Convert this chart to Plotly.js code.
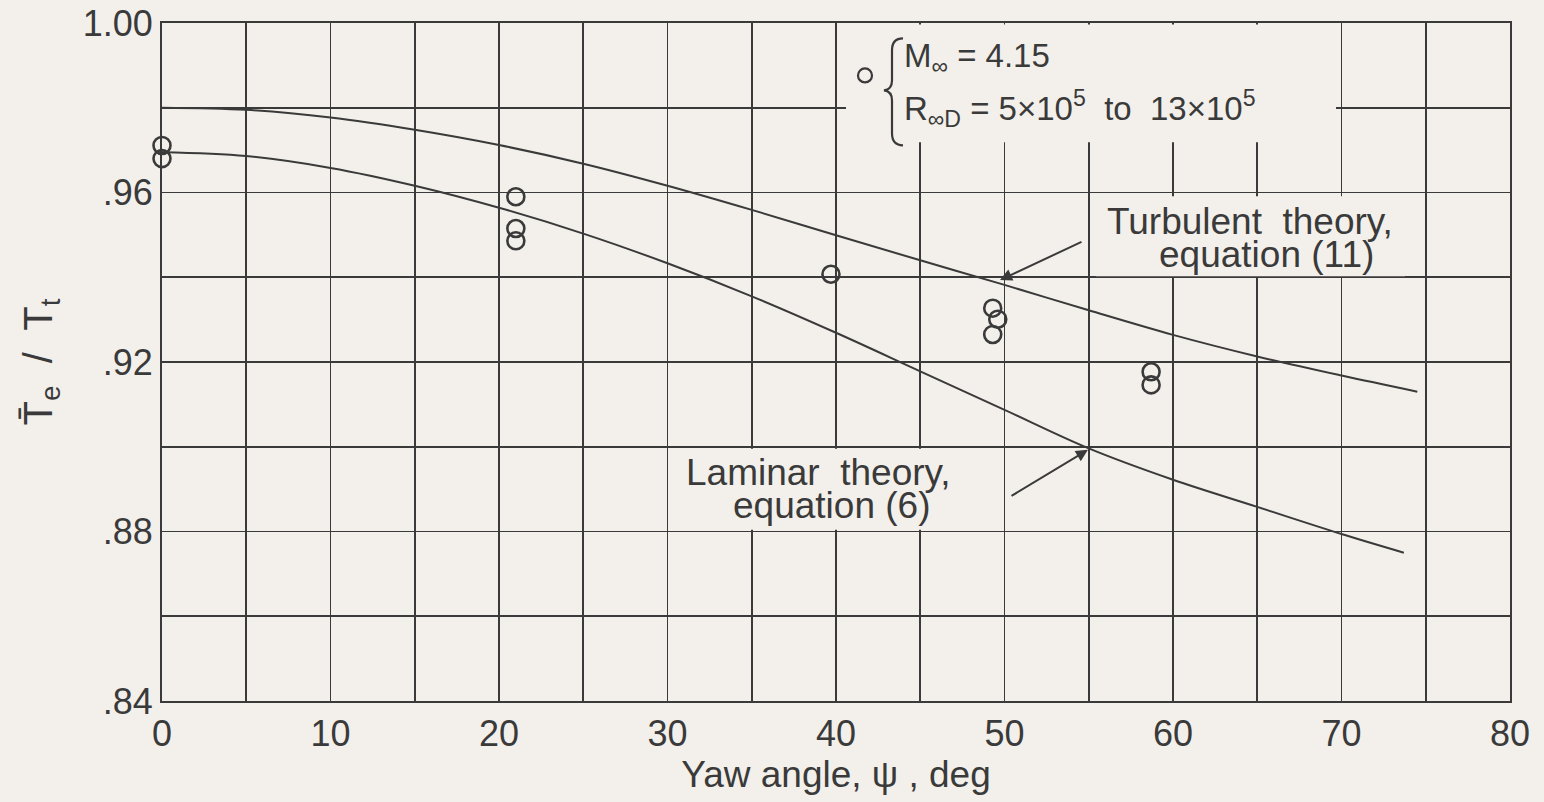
<!DOCTYPE html>
<html>
<head>
<meta charset="utf-8">
<script src="https://cdn.plot.ly/plotly-3.0.1.min.js"></script>
<style>
html,body{margin:0;padding:0;background:#f3f0eb;}
#chart{width:1544px;height:802px;}
</style>
</head>
<body>
<div id="chart"></div>
<script>
// ---- Data ----
const turbX = [0, 5, 10, 15, 20, 25, 30, 35, 40, 45, 50, 55, 60, 65, 70, 74.5];
const turbY = [0.9800, 0.9795, 0.9777, 0.9748, 0.9712, 0.9668, 0.9616, 0.9559, 0.9499, 0.9440, 0.9382, 0.9322, 0.9264, 0.9213, 0.9168, 0.9130];

const lamX = [0, 5, 10, 15, 20, 25, 30, 35, 40, 45, 50, 55, 60, 65, 70, 73.7];
const lamY = [0.9695, 0.9686, 0.9658, 0.9616, 0.9564, 0.9503, 0.9433, 0.9355, 0.9269, 0.9178, 0.9087, 0.8996, 0.8922, 0.8858, 0.8794, 0.8750];

const expX = [0, 0, 21, 21, 21, 39.7, 49.3, 49.6, 49.3, 58.7, 58.7];
const expY = [0.9711, 0.9680, 0.9590, 0.9515, 0.9486, 0.9407, 0.9327, 0.9301, 0.9265, 0.9177, 0.9146];

const xTickVals = [0, 10, 20, 30, 40, 50, 60, 70, 80];
const xTickText = ['0', '10', '20', '30', '40', '50', '60', '70', '80'];
const yTickVals = [0.84, 0.88, 0.92, 0.96, 1.00];
const yTickText = ['.84', '.88', '.92', '.96', '1.00'];

// ---- Style ----
const INK = '#3a3a3a';
const BG = '#f3f0eb';
const FONT = 'Liberation Sans, Arial, sans-serif';

// Plot-area pixel geometry (for decorative shapes placed by pixel)
const PL = 162, PR = 1510, PT = 22.5, PB = 701.5;
const X0 = 0, X1 = 80, Y0 = 0.84, Y1 = 1.00;
function px2x(px){ return X0 + (px - PL) / (PR - PL) * (X1 - X0); }
function py2y(py){ return Y1 - (py - PT) / (PB - PT) * (Y1 - Y0); }

// brace path for the legend key
function bracePath(){
  const pts = [
    ['M', 903, 38],
    ['Q', 892, 38, 892, 50],
    ['L', 892, 80],
    ['Q', 892, 89, 884, 90],
    ['Q', 892, 91, 892, 100],
    ['L', 892, 133],
    ['Q', 892, 145, 903, 145]
  ];
  return pts.map(p => {
    let s = p[0];
    for (let i = 1; i < p.length; i += 2) {
      s += ' ' + px2x(p[i]).toFixed(4) + ',' + py2y(p[i+1]).toFixed(5);
    }
    return s;
  }).join(' ');
}

const traces = [
  {
    x: turbX, y: turbY, type: 'scatter', mode: 'lines',
    line: {color: INK, width: 2, shape: 'spline', smoothing: 1},
    name: 'Turbulent theory', hoverinfo: 'x+y'
  },
  {
    x: lamX, y: lamY, type: 'scatter', mode: 'lines',
    line: {color: INK, width: 2, shape: 'spline', smoothing: 1},
    name: 'Laminar theory', hoverinfo: 'x+y'
  },
  {
    x: expX, y: expY, type: 'scatter', mode: 'markers',
    marker: {symbol: 'circle-open', size: 17, color: INK, line: {width: 2.6, color: INK}},
    name: 'Experiment', cliponaxis: false
  }
];

const shapes = [
  // background patches that interrupt the grid behind the labels
  {type: 'rect', layer: 'between', xref: 'x', yref: 'y',
   x0: px2x(846), x1: px2x(1336), y0: py2y(142), y1: py2y(24),
   fillcolor: BG, line: {width: 0}},
  {type: 'rect', layer: 'between', xref: 'x', yref: 'y',
   x0: px2x(1096), x1: px2x(1405), y0: py2y(276), y1: py2y(196),
   fillcolor: BG, line: {width: 0}},
  {type: 'rect', layer: 'between', xref: 'x', yref: 'y',
   x0: px2x(672), x1: px2x(1002), y0: py2y(530), y1: py2y(449),
   fillcolor: BG, line: {width: 0}},
  // legend key circle
  {type: 'circle', layer: 'above', xref: 'x', yref: 'y',
   x0: px2x(858), x1: px2x(872), y0: py2y(82), y1: py2y(68),
   line: {color: INK, width: 2.2}},
  // legend brace
  {type: 'path', layer: 'above', xref: 'x', yref: 'y',
   path: bracePath(), line: {color: INK, width: 2.2}}
];

const annFont = {family: FONT, size: 37, color: INK};
const annotations = [
  {x: px2x(902), y: py2y(58), xref: 'x', yref: 'y', xanchor: 'left', yanchor: 'middle',
   text: 'M<sub>∞</sub> = 4.15', showarrow: false, font: {family: FONT, size: 33, color: INK}},
  {x: px2x(902), y: py2y(108), xref: 'x', yref: 'y', xanchor: 'left', yanchor: 'middle',
   text: 'R<sub>∞D</sub> = 5×10<sup>5</sup>  to  13×10<sup>5</sup>', showarrow: false,
   font: {family: FONT, size: 33, color: INK}},

  {x: px2x(1250), y: py2y(221), xref: 'x', yref: 'y', xanchor: 'center', yanchor: 'middle',
   text: 'Turbulent  theory,', showarrow: false, font: annFont},
  {x: px2x(1266), y: py2y(254), xref: 'x', yref: 'y', xanchor: 'center', yanchor: 'middle',
   text: 'equation (11)', showarrow: false, font: annFont},

  {x: px2x(818), y: py2y(473), xref: 'x', yref: 'y', xanchor: 'center', yanchor: 'middle',
   text: 'Laminar  theory,', showarrow: false, font: annFont},
  {x: px2x(831), y: py2y(506), xref: 'x', yref: 'y', xanchor: 'center', yanchor: 'middle',
   text: 'equation (6)', showarrow: false, font: annFont},

  // pointer arrows
  {x: px2x(1000), y: py2y(280), ax: px2x(1083), ay: py2y(241),
   xref: 'x', yref: 'y', axref: 'x', ayref: 'y', text: '', showarrow: true,
   arrowhead: 2, arrowsize: 1.2, arrowwidth: 2, arrowcolor: INK},
  {x: px2x(1088), y: py2y(450), ax: px2x(1010), ay: py2y(497),
   xref: 'x', yref: 'y', axref: 'x', ayref: 'y', text: '', showarrow: true,
   arrowhead: 2, arrowsize: 1.2, arrowwidth: 2, arrowcolor: INK}
];

const layout = {
  width: 1544, height: 802,
  paper_bgcolor: BG, plot_bgcolor: BG,
  margin: {l: PL, r: 1544 - PR, t: PT, b: 802 - PB, pad: 0},
  showlegend: false,
  font: {family: FONT, color: INK},
  xaxis: {
    range: [X0, X1], autorange: false,
    tickvals: xTickVals, ticktext: xTickText,
    tickfont: {family: FONT, size: 36, color: INK},
    showgrid: true, gridcolor: INK, gridwidth: 1.7,
    minor: {dtick: 5, showgrid: true, gridcolor: INK, gridwidth: 1.7},
    showline: true, linecolor: INK, linewidth: 2, mirror: true,
    zeroline: false, ticks: '',
    title: {text: 'Yaw angle, ψ , deg', font: {family: FONT, size: 37, color: INK}, standoff: 4},
    automargin: false
  },
  yaxis: {
    range: [Y0, Y1], autorange: false,
    tickvals: yTickVals, ticktext: yTickText,
    tickfont: {family: FONT, size: 36, color: INK},
    showgrid: true, gridcolor: INK, gridwidth: 1.7,
    minor: {dtick: 0.02, showgrid: true, gridcolor: INK, gridwidth: 1.7},
    showline: true, linecolor: INK, linewidth: 2, mirror: true,
    zeroline: false, ticks: '',
    title: {text: 'T̄<sub>e</sub>  /  T<sub>t</sub>', font: {family: FONT, size: 40, color: INK}, standoff: 18},
    automargin: false
  },
  shapes: shapes,
  annotations: annotations
};

Plotly.newPlot('chart', traces, layout, {displayModeBar: false, staticPlot: true});
</script>
</body>
</html>
